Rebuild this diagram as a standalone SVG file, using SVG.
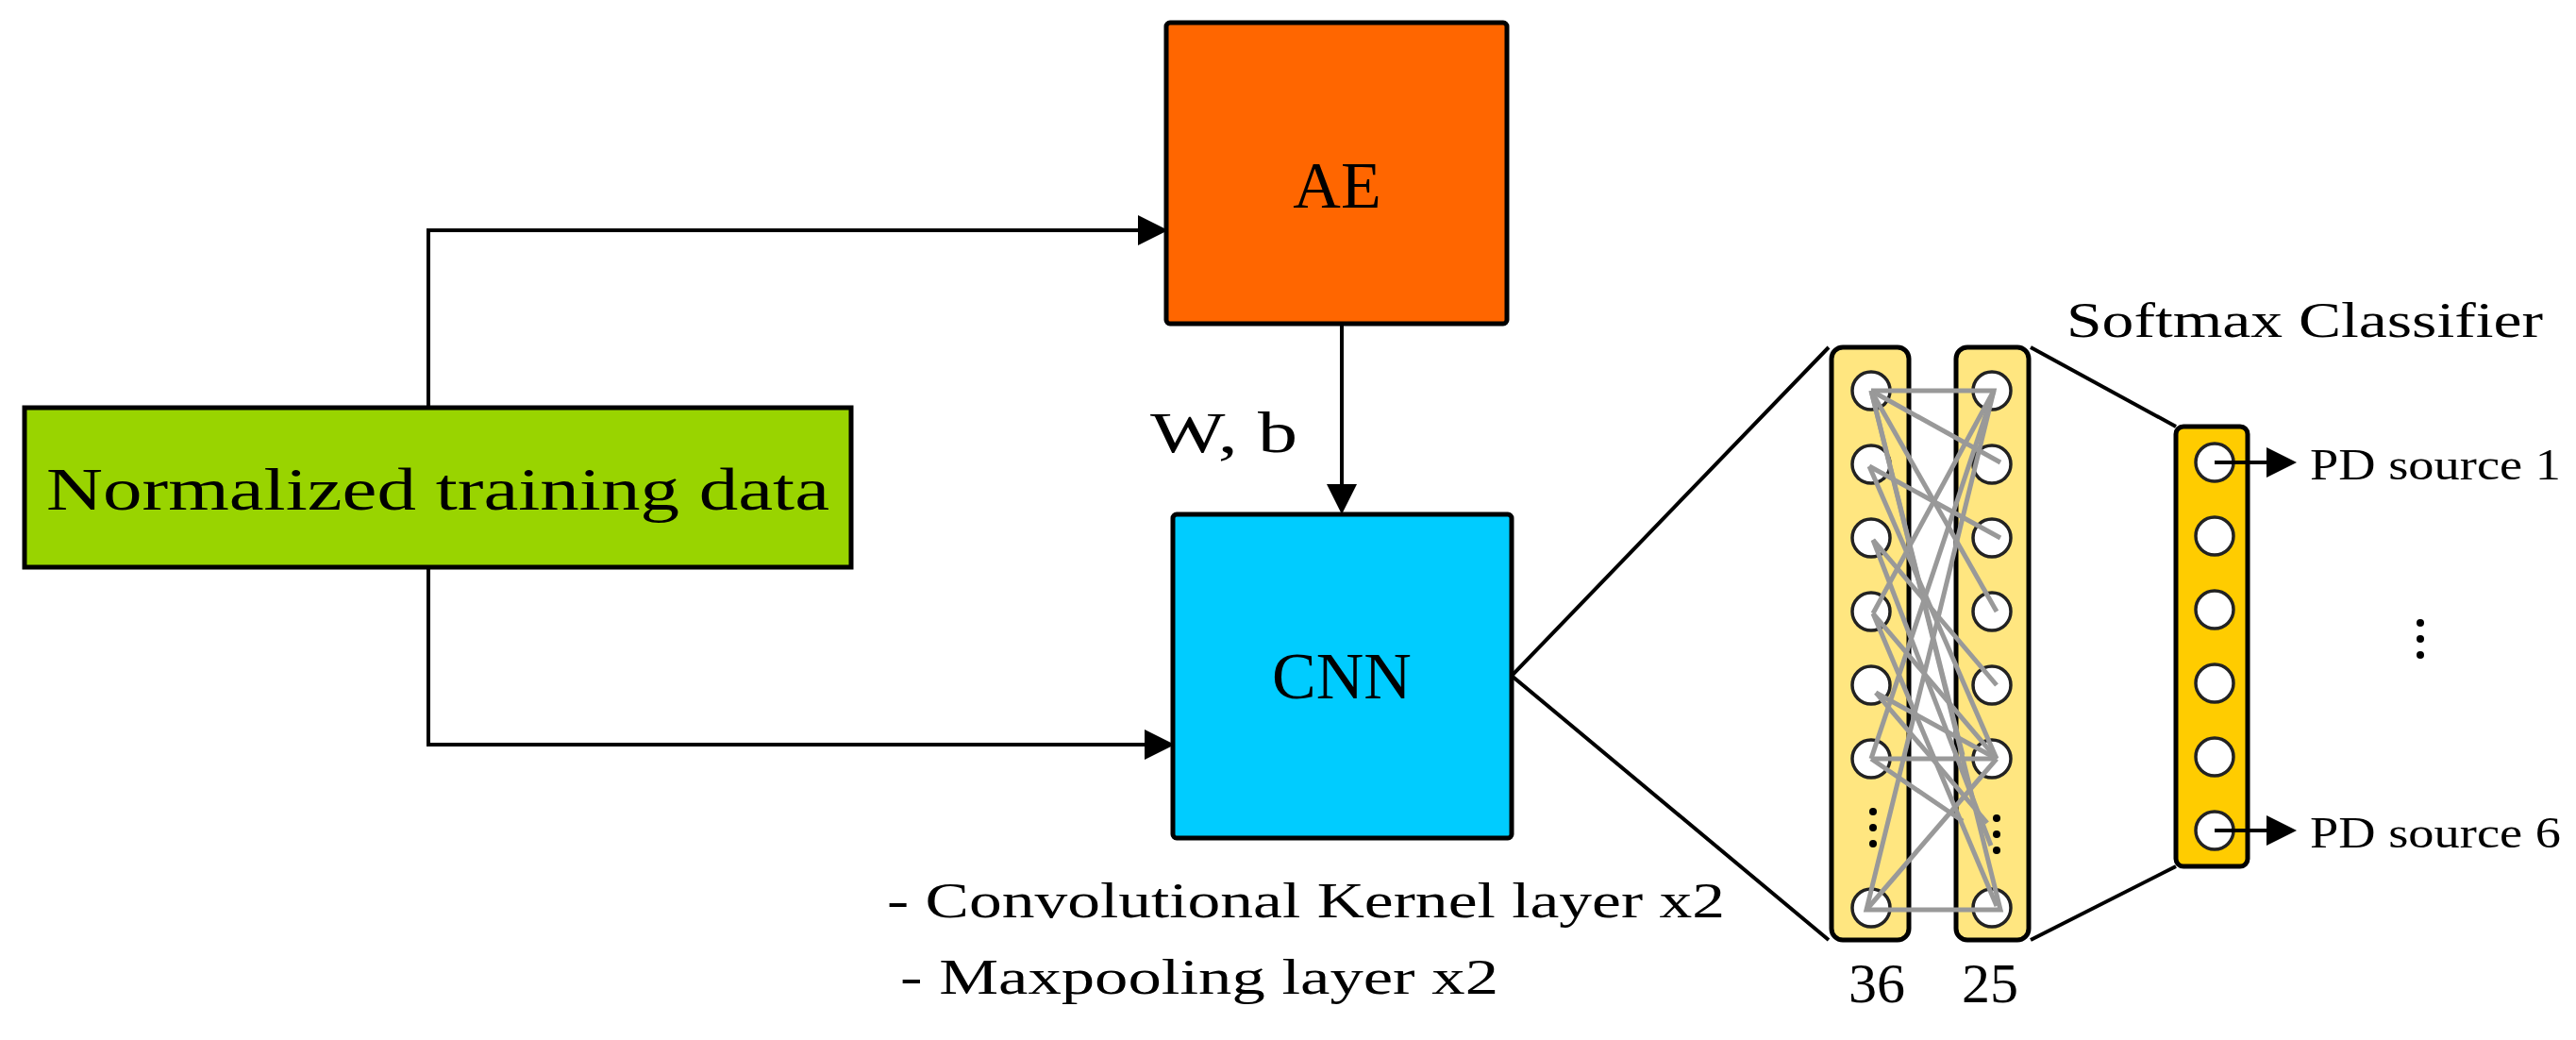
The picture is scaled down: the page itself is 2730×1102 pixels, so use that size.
<svg xmlns="http://www.w3.org/2000/svg" width="2730" height="1102" viewBox="0 0 2730 1102">
<style>
text{font-family:"Liberation Serif",serif;fill:#000}
.box{stroke:#000;stroke-width:5}
.ln{stroke:#000;stroke-width:4;fill:none}
.g{stroke:#999;stroke-width:5;fill:none}
.c{fill:#fff;stroke:#222;stroke-width:3.5}
</style>
<defs>
<marker id="ah" markerWidth="8" markerHeight="8" refX="7" refY="4" orient="auto" markerUnits="strokeWidth"><path d="M0,0 L8,4 L0,8 z" fill="#000"/></marker>
</defs>
<rect width="2730" height="1102" fill="#fff"/>
<g id="connectors">
<polyline class="ln" points="454,432 454,244 1234,244" marker-end="url(#ah)"/>
<polyline class="ln" points="454,601 454,789 1241,789" marker-end="url(#ah)"/>
<line class="ln" x1="1422" y1="343" x2="1422" y2="541" marker-end="url(#ah)"/>
<polyline class="ln" points="1938,368 1602,716 1938,996"/>
<line class="ln" x1="2152" y1="368" x2="2306" y2="452"/>
<line class="ln" x1="2152" y1="996" x2="2306" y2="918"/>
<line class="ln" x1="2347" y1="490" x2="2430" y2="490" marker-end="url(#ah)"/>
<line class="ln" x1="2347" y1="880" x2="2430" y2="880" marker-end="url(#ah)"/>
</g>
<g id="input"><rect class="box" x="26" y="432" width="876" height="169" fill="#99d400"/><text x="464" y="540" font-size="64" text-anchor="middle" textLength="830" lengthAdjust="spacingAndGlyphs">Normalized training data</text></g>
<g id="ae"><rect class="box" x="1236" y="24" width="361" height="319" rx="4" fill="#ff6600"/><text x="1417" y="220" font-size="70" text-anchor="middle">AE</text></g>
<text x="1219" y="479" font-size="62" textLength="156" lengthAdjust="spacingAndGlyphs">W, b</text>
<g id="cnn"><rect class="box" x="1243" y="545" width="359" height="343" rx="4" fill="#00ccff"/><text x="1422" y="740" font-size="70" text-anchor="middle">CNN</text></g>
<text x="940" y="972" font-size="52" textLength="888" lengthAdjust="spacingAndGlyphs">- Convolutional Kernel layer x2</text>
<text x="954" y="1053" font-size="52" textLength="634" lengthAdjust="spacingAndGlyphs">- Maxpooling layer x2</text>
<g id="layer36"><rect class="box" x="1941" y="368" width="82" height="628" rx="12" fill="#ffe680"/>
<circle class="c" cx="1983" cy="414" r="20"/><circle class="c" cx="1983" cy="492" r="20"/><circle class="c" cx="1983" cy="570" r="20"/><circle class="c" cx="1983" cy="648" r="20"/><circle class="c" cx="1983" cy="726" r="20"/><circle class="c" cx="1983" cy="804" r="20"/><circle class="c" cx="1983" cy="962" r="20"/>
<circle cx="1985" cy="860" r="4"/><circle cx="1985" cy="877" r="4"/><circle cx="1985" cy="894" r="4"/>
<text x="1989" y="1062" font-size="60" text-anchor="middle">36</text></g>
<g id="layer25"><rect class="box" x="2073" y="368" width="77" height="628" rx="12" fill="#ffe680"/>
<circle class="c" cx="2111" cy="414" r="20"/><circle class="c" cx="2111" cy="492" r="20"/><circle class="c" cx="2111" cy="570" r="20"/><circle class="c" cx="2111" cy="648" r="20"/><circle class="c" cx="2111" cy="726" r="20"/><circle class="c" cx="2111" cy="804" r="20"/><circle class="c" cx="2111" cy="962" r="20"/>
<circle cx="2116" cy="867" r="4"/><circle cx="2116" cy="884" r="4"/><circle cx="2116" cy="901" r="4"/>
<text x="2109" y="1062" font-size="60" text-anchor="middle">25</text></g>
<g id="weights" class="g">
<polyline class="g" points="1983,414 2113,414 1978,964 2120,964 1983,414"/>
<line class="g" x1="1983" y1="414" x2="2120" y2="490"/>
<line class="g" x1="1983" y1="414" x2="2116" y2="648"/>
<line class="g" x1="1983" y1="414" x2="2080" y2="800"/>
<line class="g" x1="1981" y1="494" x2="2120" y2="570"/>
<line class="g" x1="1981" y1="494" x2="2116" y2="804"/>
<line class="g" x1="1985" y1="572" x2="2116" y2="726"/>
<line class="g" x1="1985" y1="572" x2="2110" y2="896"/>
<line class="g" x1="1985" y1="650" x2="2116" y2="804"/>
<line class="g" x1="1985" y1="650" x2="2116" y2="960"/>
<line class="g" x1="1988" y1="734" x2="2116" y2="804"/>
<line class="g" x1="1988" y1="734" x2="2106" y2="872"/>
<line class="g" x1="1983" y1="804" x2="2080" y2="870"/>
<line class="g" x1="1983" y1="804" x2="2113" y2="414"/>
<line class="g" x1="1983" y1="804" x2="2116" y2="804"/>
<line class="g" x1="1978" y1="964" x2="2116" y2="804"/>
<line class="g" x1="2113" y1="414" x2="1985" y2="650"/>
</g>
<g id="softmax"><rect class="box" x="2306" y="452" width="76" height="466" rx="8" fill="#ffcc00"/>
<circle class="c" cx="2347" cy="490" r="20"/><circle class="c" cx="2347" cy="568" r="20"/><circle class="c" cx="2347" cy="646" r="20"/><circle class="c" cx="2347" cy="724" r="20"/><circle class="c" cx="2347" cy="802" r="20"/><circle class="c" cx="2347" cy="880" r="20"/>
<line class="ln" x1="2347" y1="490" x2="2400" y2="490"/><line class="ln" x1="2347" y1="880" x2="2400" y2="880"/>
<text x="2190" y="357" font-size="52" textLength="505" lengthAdjust="spacingAndGlyphs">Softmax Classifier</text></g>
<g id="outputs">
<text x="2448" y="508" font-size="46" textLength="266" lengthAdjust="spacingAndGlyphs">PD source 1</text>
<text x="2448" y="898" font-size="46" textLength="266" lengthAdjust="spacingAndGlyphs">PD source 6</text>
<circle cx="2565" cy="660" r="4"/><circle cx="2565" cy="677" r="4"/><circle cx="2565" cy="694" r="4"/>
</g>
</svg>
